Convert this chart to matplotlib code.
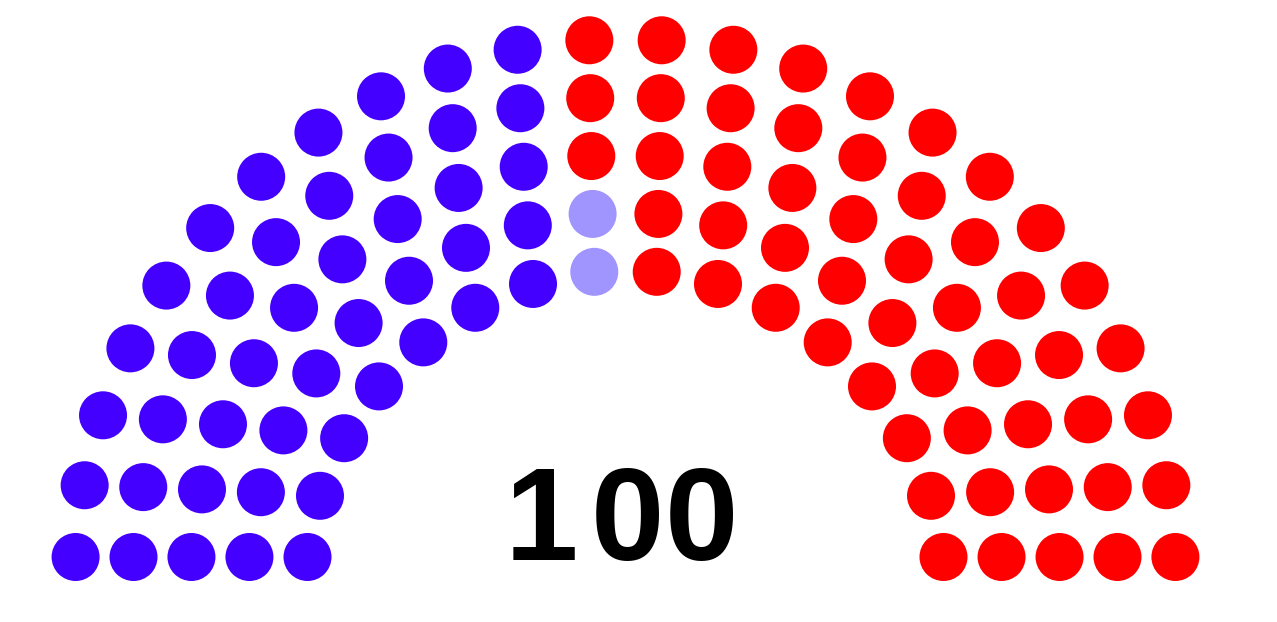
import numpy as np
import matplotlib.pyplot as plt
from matplotlib.patches import Circle

# ── Data ──────────────────────────────────────────────────────
parties = ['Blue', 'Light', 'Red']
seats = [45, 2, 53]
colors = ['#4400ff', '#a094ff', '#ff0000']
total_label = '100'

# seats per row, inner -> outer
row_counts = [16, 18, 20, 22, 24]

# ── Layout (pixels) ───────────────────────────────────────────
W, H = 1277, 622
cx, cy = 625.5, 590
r_inner, r_step = 319.7, 57.8
lift = 33          # bottom seats sit this far above the arc centre
dot_r = 24

positions = []
for i, n in enumerate(row_counts):
    r = r_inner + i * r_step
    a0 = np.arcsin(lift / r)
    for k in range(n):
        ang = np.pi - a0 - k * (np.pi - 2 * a0) / (n - 1)
        positions.append((ang, cx + r * np.cos(ang), cy - r * np.sin(ang)))

# order seats by angle (left to right), then hand them to parties
positions.sort(key=lambda p: -p[0])
seat_colors = []
for c, n in zip(colors, seats):
    seat_colors += [c] * n

fig = plt.figure(figsize=(W / 100, H / 100), dpi=100)
ax = fig.add_axes([0, 0, 1, 1])
ax.set_xlim(0, W)
ax.set_ylim(H, 0)
ax.set_aspect('equal')
ax.axis('off')

for (ang, x, y), c in zip(positions, seat_colors):
    ax.add_patch(Circle((x, y), dot_r, color=c, lw=0))

# the total is set with wide, even digit spacing
char_x = [541, 627, 701.5]
for ch, x in zip(total_label, char_x):
    ax.text(x, 560, ch, ha='center', va='baseline',
            fontsize=95, fontweight='bold', family='Liberation Sans')

fig.savefig('out.png', dpi=100)
